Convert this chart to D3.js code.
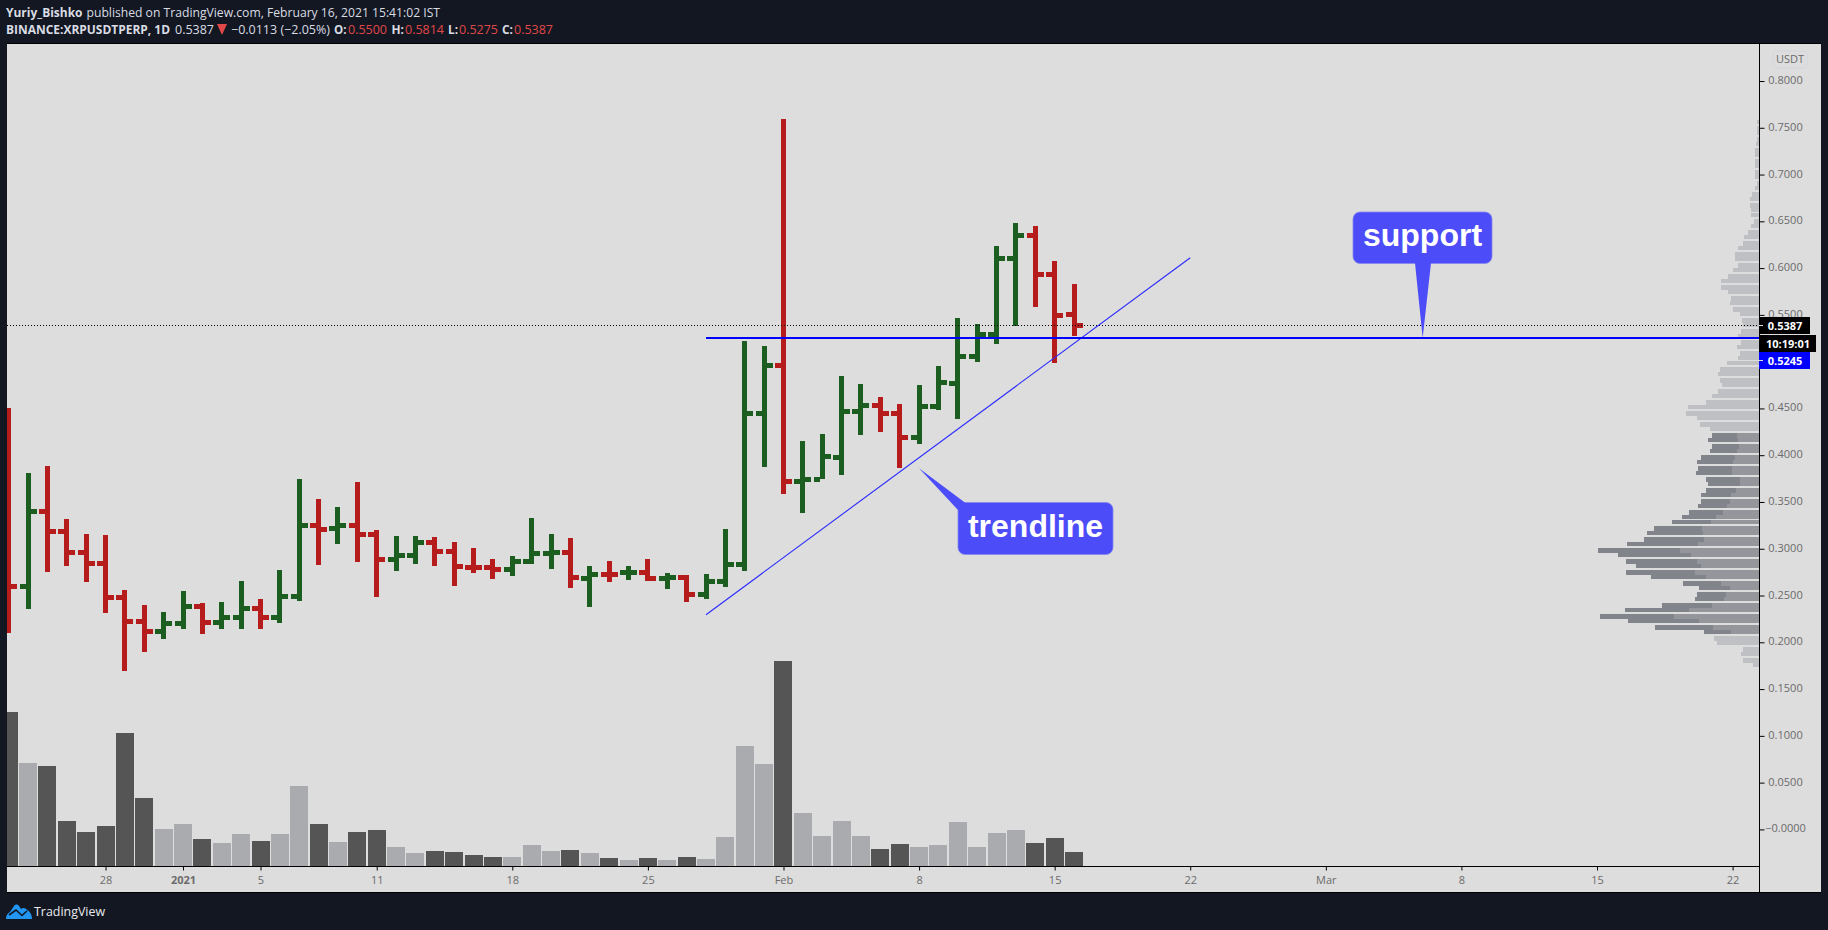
<!DOCTYPE html>
<html><head><meta charset="utf-8">
<script src="https://cdn.jsdelivr.net/npm/d3@7"></script>
<style>html,body{margin:0;padding:0;background:#131722;overflow:hidden}svg{display:block}text{font-family:"Open Sans",sans-serif}</style>
</head><body><svg id="c" width="1828" height="930"></svg>
<script>
// ---- data ----
const dates=["2020-12-23","2020-12-24","2020-12-25","2020-12-26","2020-12-27","2020-12-28","2020-12-29","2020-12-30","2020-12-31","2021-01-01","2021-01-02","2021-01-03","2021-01-04","2021-01-05","2021-01-06","2021-01-07","2021-01-08","2021-01-09","2021-01-10","2021-01-11","2021-01-12","2021-01-13","2021-01-14","2021-01-15","2021-01-16","2021-01-17","2021-01-18","2021-01-19","2021-01-20","2021-01-21","2021-01-22","2021-01-23","2021-01-24","2021-01-25","2021-01-26","2021-01-27","2021-01-28","2021-01-29","2021-01-30","2021-01-31","2021-02-01","2021-02-02","2021-02-03","2021-02-04","2021-02-05","2021-02-06","2021-02-07","2021-02-08","2021-02-09","2021-02-10","2021-02-11","2021-02-12","2021-02-13","2021-02-14","2021-02-15","2021-02-16"];
const open=[.4000,.2598,.3400,.3186,.2962,.2844,.2481,.2224,.2117,.2203,.2385,.2214,.2267,.2363,.2267,.2491,.3250,.3218,.3250,.3154,.2887,.2930,.3069,.2972,.2801,.2801,.2780,.2866,.2951,.2962,.2684,.2727,.2748,.2748,.2684,.2694,.2513,.2652,.2834,.4447,.4961,.3721,.3742,.3977,.4469,.4533,.4448,.4191,.4523,.4769,.5057,.5292,.6105,.6350,.5934,.5500];
const high=[.4504,.3810,.3885,.3318,.3158,.3147,.2559,.2399,.2324,.2548,.2420,.2431,.2655,.2463,.2773,.3746,.3532,.3446,.3713,.3200,.3136,.3136,.3126,.3072,.3008,.2890,.2923,.3329,.3158,.3115,.2816,.2869,.2816,.2890,.2741,.2719,.2730,.3211,.5221,.5168,.7594,.4152,.4227,.4847,.4761,.4622,.4548,.4751,.4954,.5467,.5403,.6236,.6482,.6450,.6076,.5835];
const low=[.2099,.2356,.2751,.2816,.2645,.2313,.1693,.1896,.2035,.2142,.2089,.2142,.2142,.2142,.2206,.2441,.2826,.3051,.2858,.2484,.2762,.2837,.2816,.2602,.2741,.2677,.2709,.2837,.2784,.2580,.2377,.2645,.2666,.2655,.2570,.2431,.2463,.2591,.2762,.3874,.3585,.3382,.3742,.3788,.4216,.4248,.3863,.4120,.4483,.4387,.4997,.5189,.5381,.5584,.4986,.5275];
const close=[.2598,.3400,.3186,.2962,.2844,.2481,.2224,.2117,.2203,.2385,.2214,.2267,.2363,.2267,.2491,.3250,.3208,.3250,.3154,.2887,.2930,.3069,.2972,.2812,.2800,.2780,.2866,.2951,.2962,.2694,.2727,.2726,.2749,.2684,.2694,.2513,.2652,.2834,.4447,.4961,.3721,.3742,.3988,.4469,.4533,.4448,.4191,.4523,.4779,.5057,.5292,.6105,.6350,.5934,.5495,.5387];
const volume=[154,103,100,45,34,40,133,68,37,42,27,23,32,25,32,80,42,24,34,36,19,13,15,14,11,9,9,21,15,16,13,8,6,8,6,9,7,29,120,102,205,53,30,45,30,17,22,19,21,44,19,33,36,23,28,14];
// visible-range volume profile, lowest bucket first: total and the inner (lighter) part
const profileTotal=[19,49,55,49,127,136,166,313,394,478,403,292,193,187,181,229,325,400,370,400,424,484,397,346,337,316,262,232,211,184,175,175,160,154,160,190,184,187,175,148,142,154,142,148,178,187,220,214,160,142,124,112,118,124,118,97,64,58,67,55,64,55,49,52,58,79,88,85,94,115,115,94,79,64,73,73,64,49,46,34,25,16,25,25,28,28,22,13,7,13,13,13,13,13,13,10,7,7,7,7];
const profileInner=[0,0,0,0,0,0,85,139,181,256,211,142,106,100,88,115,160,193,175,187,205,238,184,166,169,172,145,130,109,97,88,85,70,58,58,82,82,79,73,67,61,64,67,0,0,0,0,0,0,0,0,0,0,0,0,0,0,0,0,0,0,0,0,0,0,0,0,0,0,0,0,0,0,0,0,0,0,0,0,0,0,0,0,0,0,0,0,0,0,0,0,0,0,0,0,0,0,0,0,0];
const profileLowPrice=.1750, profileHighPrice=.7551;
const priceTicks=[.8,.75,.7,.65,.6,.55,.5,.45,.4,.35,.3,.25,.2,.15,.1,.05,0];
const priceLabels=["0.8000","0.7500","0.7000","0.6500","0.6000","0.5500","0.5000","0.4500","0.4000","0.3500","0.3000","0.2500","0.2000","0.1500","0.1000","0.0500","\u22120.0000"];
const timeTicks=["2020-12-28","2021-01-01","2021-01-05","2021-01-11","2021-01-18","2021-01-25","2021-02-01","2021-02-08","2021-02-15","2021-02-22","2021-03-01","2021-03-08","2021-03-15","2021-03-22"];
const timeLabels=["28","2021","5","11","18","25","Feb","8","15","22","Mar","8","15","22"];
const lastClose=.5387, supportPrice=.5252;
const trendStart=["2021-01-28",.2295], trendEnd=["2021-02-22",.6111], supportStart="2021-01-28";
const supportTip=["2021-03-06",.5252], trendTip=["2021-02-08",.3860];

// ---- layout ----
const L=7,T=44,R=1759,B=866,FR=1821,FB=893;
const C={bg:"#131722",plot:"#dddddd",up:"#1b5e20",dn:"#b71c1c",vUp:"#aaabaf",vDn:"#555555",
 pLight:"#bfc0c3",pDark:"#82848b",pInner:"#94969c",blue:"#0000ff",thin:"#2a2aff",call:"#4c4cf9",txt:"#6b6b6b"};
const pd=d3.utcParse("%Y-%m-%d");
const x=d3.scaleUtc().domain([pd("2020-12-23"),pd("2021-03-22")]).range([8.7,1732.6]);
const y=d3.scaleLinear().domain([.8,0]).range([81,829.4]);
const yVol=d3.scaleLinear().domain([0,205]).range([B,661]);
const xProf=d3.scaleLinear().domain([0,484]).range([R,R-484/3]);
const svg=d3.select("#c");
svg.append("rect").attr("width",1828).attr("height",930).attr("fill",C.bg);
svg.append("rect").attr("x",L).attr("y",T).attr("width",FR-L).attr("height",FB-T-1).attr("fill",C.plot);
svg.append("defs").append("clipPath").attr("id","pane").append("rect").attr("x",L).attr("y",T).attr("width",R-L).attr("height",B-T);
const rows=dates.map((d,i)=>({d:pd(d),o:open[i],h:high[i],l:low[i],c:close[i],v:volume[i]}));
const pane=svg.append("g").attr("clip-path","url(#pane)");

// volume
pane.append("g").attr("shape-rendering","crispEdges").selectAll("rect").data(rows).join("rect")
 .attr("x",d=>Math.round(x(d.d)-9)).attr("width",18)
 .attr("y",d=>yVol(d.v)).attr("height",d=>B-yVol(d.v))
 .attr("fill",d=>d.c>=d.o?C.vUp:C.vDn);

// volume profile
const rowStep=(profileHighPrice-profileLowPrice)/(profileTotal.length-1);
const rowTop=p=>Math.round(y(p)-2.7);
const prof=profileTotal.map((t,i)=>{const p=profileLowPrice+i*rowStep;return {t,inner:profileInner[i],top:rowTop(p),h:rowTop(p)-rowTop(p+rowStep)-1};});
const pg=pane.append("g").attr("shape-rendering","crispEdges");
pg.selectAll(".a").data(prof).join("rect").attr("class","a")
 .attr("x",d=>xProf(d.t)).attr("width",d=>R-xProf(d.t)).attr("y",d=>d.top).attr("height",d=>d.h)
 .attr("fill",d=>d.inner?C.pDark:C.pLight);
pg.selectAll(".b").data(prof.filter(d=>d.inner)).join("rect").attr("class","b")
 .attr("x",d=>xProf(d.inner)).attr("width",d=>R-xProf(d.inner)).attr("y",d=>d.top).attr("height",d=>d.h)
 .attr("fill",C.pInner);

// OHLC bars
const bars=pane.append("g").attr("shape-rendering","crispEdges").selectAll("g").data(rows).join("g")
 .attr("fill",d=>d.c>=d.o?C.up:C.dn);
const cx=d=>Math.round(x(d.d)-2.5);
bars.append("rect").attr("x",cx).attr("width",5).attr("y",d=>Math.round(y(d.h))).attr("height",d=>Math.round(y(d.l))-Math.round(y(d.h)));
bars.append("rect").attr("x",d=>cx(d)-6).attr("width",6).attr("y",d=>Math.round(y(d.o)-2.5)).attr("height",5);
bars.append("rect").attr("x",d=>cx(d)+5).attr("width",6).attr("y",d=>Math.round(y(d.c)-2.5)).attr("height",5);

// last price dotted line
pane.append("line").attr("x1",L).attr("x2",R).attr("y1",Math.round(y(lastClose))+.5).attr("y2",Math.round(y(lastClose))+.5)
 .attr("stroke","#000").attr("stroke-width",1).attr("stroke-dasharray","1 2");

// drawings
const line=d3.line().x(d=>x(pd(d[0]))).y(d=>y(d[1]));
pane.append("path").attr("d",line([trendStart,trendEnd])).attr("stroke",C.thin).attr("stroke-width",1.1).attr("fill","none");
pane.append("line").attr("x1",x(pd(supportStart))).attr("x2",R).attr("y1",y(supportPrice)).attr("y2",y(supportPrice))
 .attr("stroke",C.blue).attr("stroke-width",2);

function callout(bx,by,bw,bh,tail,label,tx,ty){
 const g=svg.append("g");
 g.append("rect").attr("x",bx).attr("y",by).attr("width",bw).attr("height",bh).attr("rx",7).attr("fill",C.call).attr("stroke","#8688ee").attr("stroke-width",.8);
 g.append("path").attr("d",d3.line()(tail)).attr("fill",C.call);
 g.append("text").attr("x",tx).attr("y",ty).attr("text-anchor","middle").attr("fill","#fff")
  .style("font-family","'Liberation Sans',Arial,sans-serif").style("font-weight",700).style("font-size","32px").text(label);
}
const st=[x(pd(supportTip[0])),y(supportTip[1])];
callout(1353,212,139,51.5,[[1415,263],st,[1431,263]],"support",1422.5,246);
const tt=[x(pd(trendTip[0])),y(trendTip[1])];
callout(958,502.5,155,52,[[965.5,503],tt,[958,510],[962,507]],"trendline",1035.5,537);

// axes
const ax=svg.append("g").attr("transform",`translate(${R+.5},0)`)
 .call(d3.axisRight(y).tickValues(priceTicks).tickSize(5).tickPadding(0).tickFormat((d,i)=>priceLabels[i]));
ax.select(".domain").remove();
ax.selectAll("line").attr("stroke","#000");
ax.selectAll("text").attr("x",26).attr("y",-1).attr("text-anchor","middle").attr("fill",C.txt).style("font-size","11px");
svg.append("line").attr("x1",R+.5).attr("x2",R+.5).attr("y1",T).attr("y2",FB).attr("stroke","#000");
const bx=svg.append("g").attr("transform",`translate(0,${B+.5})`)
 .call(d3.axisBottom(x).tickValues(timeTicks.map(pd)).tickSize(4).tickPadding(0).tickFormat((d,i)=>timeLabels[i]));
bx.select(".domain").remove();
bx.selectAll("line").attr("stroke","#000");
bx.selectAll("text").attr("y",10).attr("dy",".71em").attr("fill",C.txt).style("font-size","11px")
 .style("font-weight",(d,i)=>timeLabels[i]==="2021"?700:400);
svg.append("line").attr("x1",L).attr("x2",R).attr("y1",B+.5).attr("y2",B+.5).attr("stroke","#000");
svg.append("line").attr("x1",L).attr("x2",FR).attr("y1",FB-.5).attr("y2",FB-.5).attr("stroke","#000");
svg.append("line").attr("x1",L).attr("x2",FR).attr("y1",T-.5).attr("y2",T-.5).attr("stroke","#000");

// currency badge
svg.append("rect").attr("x",1773).attr("y",51).attr("width",34).attr("height",17).attr("rx",3).attr("fill","none").attr("stroke","#d6d6de");
svg.append("text").attr("x",1790).attr("y",63).attr("text-anchor","middle").attr("fill",C.txt).style("font-size","11px").text("USDT");

// price tags
function tag(yy,w,h,fill,label,weight){
 svg.append("rect").attr("x",R).attr("y",yy).attr("width",w).attr("height",h).attr("fill",fill);
 svg.append("text").attr("x",R+w/2+.5).attr("y",yy+h/2+4).attr("text-anchor","middle").attr("fill","#fff").style("font-size","11px").style("font-weight",weight).text(label);
}
tag(317,51,17,"#000","0.5387",700);
tag(335,57,17,"#000","10:19:01",700);
tag(352,51,17,C.blue,"0.5245",700);
svg.append("line").attr("x1",R).attr("x2",R+4).attr("y1",325.5).attr("y2",325.5).attr("stroke","#ddd");
svg.append("line").attr("x1",R).attr("x2",R+4).attr("y1",360.5).attr("y2",360.5).attr("stroke","#ddd");

// header
function h(xp,yp,s,fill,w,len){const t=svg.append("text").attr("x",xp).attr("y",yp).attr("fill",fill).style("font-size","12.5px").style("font-weight",w||400).text(s);
 if(len)t.attr("textLength",len).attr("lengthAdjust","spacingAndGlyphs");}
const W="#d9dce3",Rd="#e04848";
h(6,17,"Yuriy_Bishko",W,700,76.5);
h(86.5,17,"published on TradingView.com, February 16, 2021 15:41:02 IST",W,400,353.5);
h(6,34,"BINANCE:XRPUSDTPERP, 1D",W,700,164);
h(175,34,"0.5387",W,400,39);
svg.append("path").attr("d","M217 24H227L222 35Z").attr("fill",Rd);
h(231,34,"\u22120.0113 (\u22122.05%)",W,400,99);
h(334,34,"O:",W,700,12.5);h(348,34,"0.5500",Rd,400,39);
h(391.5,34,"H:",W,700,12.5);h(405,34,"0.5814",Rd,400,39);
h(448,34,"L:",W,700,10);h(459,34,"0.5275",Rd,400,39);
h(502,34,"C:",W,700,11);h(514,34,"0.5387",Rd,400,39);

// footer logo
svg.append("path").attr("d","M6 919C6 915 8 913 10 912L14 906C15 904 18 904 19 906L21 909C23 907 26 908 27 910C30 911 32 915 32 919Z").attr("fill","#2196f3");
svg.append("path").attr("d","M9 915L16 910L22 915.5L27 911").attr("fill","none").attr("stroke","#131722").attr("stroke-width",1.6);
svg.append("text").attr("x",34).attr("y",916).attr("fill","#e8eaee").attr("textLength",71).attr("lengthAdjust","spacingAndGlyphs").style("font-size","13px").text("TradingView");
</script></body></html>
